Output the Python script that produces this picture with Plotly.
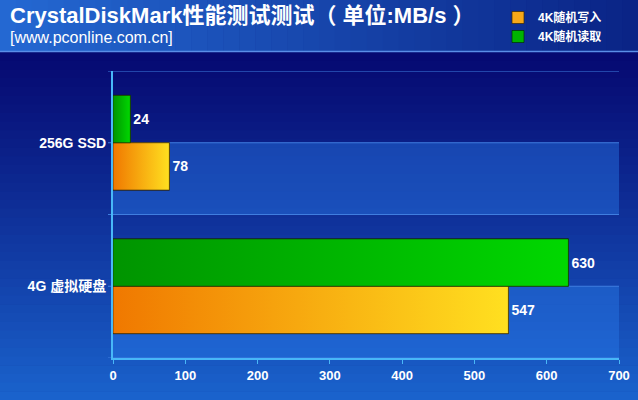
import plotly.graph_objects as go

categories = ["4G 虚拟硬盘", "256G SSD"]
write_4k = [547, 78]
read_4k = [630, 24]
x_ticks = [0, 100, 200, 300, 400, 500, 600, 700]
series_names = ["4K随机写入", "4K随机读取"]

W, H = 638, 400
ML, MR, MT, MB = 113, 19, 71, 42
PW, PH = W - ML - MR, H - MT - MB

def px_x(p):
    return (p - ML) / PW

def px_y(p):
    return (H - MB - p) / PH

def lerp(c1, c2, t):
    a = [int(c1[i:i + 2], 16) for i in (1, 3, 5)]
    b = [int(c2[i:i + 2], 16) for i in (1, 3, 5)]
    return "rgb(%d,%d,%d)" % tuple(round(a[k] + (b[k] - a[k]) * t) for k in range(3))

shapes = []
# background vertical gradient below title bar
N = 40
top, bot = 52, H
for i in range(N):
    y0 = top + (bot - top) * i / N
    y1 = top + (bot - top) * (i + 1) / N + 0.5
    t = i / (N - 1)
    shapes.append(dict(type="rect", xref="paper", yref="paper", layer="below",
                       x0=px_x(0), x1=px_x(W), y0=px_y(y1), y1=px_y(y0),
                       line=dict(width=0), fillcolor=lerp("#060a72", "#1a62cc", t ** 1.1)))
# title bar horizontal gradient
M = 40
for i in range(M):
    x0 = W * i / M
    x1 = W * (i + 1) / M + 0.5
    t = i / (M - 1)
    shapes.append(dict(type="rect", xref="paper", yref="paper", layer="below",
                       x0=px_x(x0), x1=px_x(x1), y0=px_y(51), y1=px_y(0),
                       line=dict(width=0), fillcolor=lerp("#2468d2", "#0a2486", t)))
shapes.append(dict(type="line", xref="paper", yref="paper", layer="below",
                   x0=px_x(0), x1=px_x(W), y0=px_y(51.5), y1=px_y(51.5),
                   line=dict(color="#5a8ee8", width=1.5)))
# interlaced bands
for yb in [(-0.5, 0.0), (0.5, 1.0)]:
    shapes.append(dict(type="rect", xref="paper", yref="y", layer="below",
                       x0=0, x1=1, y0=yb[0], y1=yb[1],
                       line=dict(width=0), fillcolor="rgba(40,120,230,0.45)"))
# horizontal gridlines with small left ticks
for yv in [-0.5, 0.0, 0.5, 1.0, 1.5]:
    shapes.append(dict(type="line", xref="paper", yref="y", layer="below",
                       x0=px_x(ML - 5), x1=1, y0=yv, y1=yv,
                       line=dict(color="#3f7ee0", width=1.2)))

lab_font = dict(color="white", size=14, family="Arial", weight="bold")

fig = go.Figure()
fig.add_trace(go.Bar(
    y=[0, 1], x=write_4k, orientation="h", name=series_names[0],
    marker=dict(color="#f7a818", line=dict(color="rgba(60,40,0,0.7)", width=1)),
    text=[str(v) for v in write_4k], textposition="outside",
    textfont=lab_font, cliponaxis=False,
))
fig.add_trace(go.Bar(
    y=[0, 1], x=read_4k, orientation="h", name=series_names[1],
    marker=dict(color="#00b400", line=dict(color="rgba(0,50,0,0.7)", width=1)),
    text=[str(v) for v in read_4k], textposition="outside",
    textfont=lab_font, cliponaxis=False,
))

# gradient overlays computed from the same values
bargap = 0.34
bw = (1 - bargap) / 2
for vals, off, cs in [(write_4k, -1, [[0, "#f07800"], [1, "#ffe020"]]),
                      (read_4k, 0, [[0, "#009400"], [1, "#00d800"]])]:
    for yi, v in enumerate(vals):
        y0 = yi + off * bw
        y1 = y0 + bw
        fig.add_trace(go.Scatter(
            x=[0, v, v, 0, 0], y=[y0, y0, y1, y1, y0], mode="lines",
            fill="toself", fillgradient=dict(type="horizontal", colorscale=cs),
            line=dict(color="rgba(40,30,0,0.6)", width=1),
            showlegend=False, hoverinfo="skip"))

fig.update_layout(
    width=W, height=H,
    margin=dict(l=ML, r=MR, t=MT, b=MB, autoexpand=False),
    paper_bgcolor="#0a2080", plot_bgcolor="rgba(0,0,0,0)",
    barmode="group", bargap=bargap, bargroupgap=0,
    font=dict(family="Arial, Liberation Sans, Noto Sans CJK SC", color="white"),
    shapes=shapes,
    showlegend=True,
    legend=dict(xref="container", yref="container", x=498 / W, y=1 - 3 / H,
                xanchor="left", yanchor="top", bgcolor="rgba(0,0,0,0)",
                font=dict(size=12, color="white", family="Arial, Noto Sans CJK SC", weight="bold"),
                traceorder="normal", itemwidth=30, tracegroupgap=0),
    xaxis=dict(range=[0, 700], tickvals=x_ticks, showgrid=False, zeroline=False,
               showline=True, linecolor="#48b8f8", linewidth=2,
               ticks="outside", ticklen=4, tickcolor="#48b8f8",
               tickfont=dict(size=13, color="white", family="Arial", weight="bold")),
    yaxis=dict(range=[-0.5, 1.5], tickvals=[0, 1], ticktext=categories,
               showgrid=False, zeroline=False, showline=True, linecolor="#48b8f8",
               linewidth=2, ticks="", ticklabelstandoff=2,
               tickfont=dict(size=14, color="white", family="Arial, Noto Sans CJK SC", weight="bold")),
    annotations=[
        dict(text="<b>CrystalDiskMark性能测试测试（ 单位:MB/s ）</b>", xref="paper", yref="paper",
             x=px_x(8), y=px_y(15), xanchor="left", yanchor="middle", showarrow=False,
             font=dict(size=22, color="white", family="Arial, Noto Sans CJK SC")),
        dict(text="[www.pconline.com.cn]", xref="paper", yref="paper",
             x=px_x(8), y=px_y(37), xanchor="left", yanchor="middle", showarrow=False,
             font=dict(size=16, color="white", family="Arial")),
    ],
)

fig.write_html("out.html", config={"displayModeBar": False},
               post_script="document.body.style.margin='0';document.body.style.padding='0';")
